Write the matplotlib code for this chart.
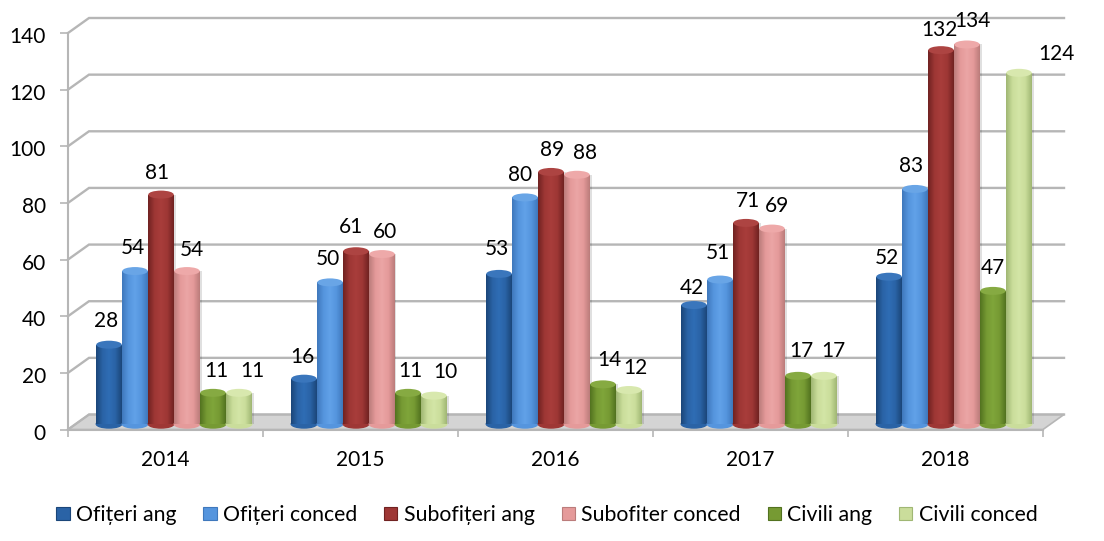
import numpy as np
import matplotlib
matplotlib.use('Agg')
import matplotlib.pyplot as plt
from matplotlib.colors import LinearSegmentedColormap
from matplotlib.patches import Ellipse, Patch, Polygon
from matplotlib.transforms import ScaledTranslation

plt.rcParams['font.family'] = ['Lato', 'DejaVu Sans']

years = ['2014', '2015', '2016', '2017', '2018']
ofiteri_ang = [28, 16, 53, 42, 52]
ofiteri_conced = [54, 50, 80, 51, 83]
subofiteri_ang = [81, 61, 89, 71, 132]
subofiter_conced = [54, 60, 88, 69, 134]
civili_ang = [11, 11, 14, 17, 47]
civili_conced = [11, 10, 12, 17, 124]

series = [ofiteri_ang, ofiteri_conced, subofiteri_ang, subofiter_conced, civili_ang, civili_conced]
names = ['Ofițeri ang', 'Ofițeri conced', 'Subofițeri ang', 'Subofiter conced', 'Civili ang', 'Civili conced']

# dark edge, body, highlight, top cap
shades = [('#1B4679', '#2A63A6', '#2F6DB5', '#3A76BC'),
          ('#3F78BC', '#5595DE', '#62A2E8', '#69A5E6'),
          ('#702221', '#9E3735', '#A83D3B', '#AD4442'),
          ('#BB7C7B', '#E59A9A', '#EBA5A5', '#EEA9A9'),
          ('#527220', '#769A33', '#7FA53A', '#86AA42'),
          ('#A0B774', '#CADD9B', '#D3E5A6', '#D8E8AE')]

# label offset from the bar top centre, in px, one row per year
nudge = [[(-3, 24), (-2, 23), (-4, 22), (5, 21), (3, 22), (13, 22)],
         [(-2, 22), (-2, 23), (-5, 24), (3, 22), (2, 22), (11, 24)],
         [(-2, 25), (-5, 22), (1, 22), (8, 22), (6, 24), (6, 22)],
         [(-2, 17), (-2, 27), (2, 22), (5, 23), (3, 25), (9, 25)],
         [(-2, 19), (-4, 23), (-2, 20), (5, 23), (0, 23), (37, 19)]]

W, H = 1104, 541
x0, x1 = 68, 1043
y0, ytop = 429.5, 33
fig = plt.figure(figsize=(W / 100, H / 100), dpi=100)
ax = fig.add_axes([x0 / W, 1 - y0 / H, (x1 - x0) / W, (y0 - ytop) / H])
ax.set_xlim(0, 5)
ax.set_ylim(0, 140)

px_x = 5 / (x1 - x0)
px_y = 140 / (y0 - ytop)
depth_x = 21 * px_x
depth_y = 15 * px_y
grid_c = '#B6B6B6'

# floor and back wall lines
ax.add_patch(Polygon([(0, 0), (depth_x, depth_y), (5 + depth_x, depth_y), (5, 0)],
                     facecolor='#D4D4D4', edgecolor=grid_c, lw=1.2, clip_on=False, zorder=1))
for v in range(0, 160, 20):
    ax.plot([0, depth_x, 5 + depth_x], [v, v + depth_y, v + depth_y], color=grid_c, lw=1.7,
            clip_on=False, zorder=1, solid_joinstyle='miter')

bar_w = 26 * px_x
start = 28 * px_x
base = 5.5 * px_y
cap_h = 8 * px_y
for i, vals in enumerate(series):
    edge, body, high, cap = shades[i]
    cmap = LinearSegmentedColormap.from_list('c%d' % i, [edge, body, high, body, edge])
    xs = np.arange(5) + start + i * bar_w + bar_w / 2
    z = 5 + i
    for g, (x, v) in enumerate(zip(xs, vals)):
        zz = z + g * 10
        # soft shadow on the right side of the bar
        ax.bar(x + 1.5 * px_x, v, bar_w, bottom=base, color='#000000', alpha=0.12, zorder=zz - 0.1)
        ax.add_patch(Ellipse((x, base), bar_w * 0.98, cap_h, color=body, zorder=zz, clip_on=False))
        rect = ax.bar(x, v, bar_w * 0.98, bottom=base, color=body, zorder=zz)[0]
        im = ax.imshow(np.linspace(0, 1, 64)[None, :], cmap=cmap, aspect='auto', zorder=zz + 0.1,
                       extent=(x - bar_w * 0.49, x + bar_w * 0.49, base, base + v))
        im.set_clip_path(rect)
        ax.add_patch(Ellipse((x, base + v), bar_w * 0.98, cap_h, facecolor=cap, edgecolor='none',
                             zorder=zz + 0.2, clip_on=False))
        dx, dy = nudge[g][i]
        ax.annotate(str(v), (x, base + v), xytext=(dx * 0.72, dy * 0.72), textcoords='offset points',
                    ha='center', va='center', fontsize=15, color='black', zorder=100, annotation_clip=False)
ax.set_xlim(0, 5)
ax.set_ylim(0, 140)

for s in ['top', 'right']:
    ax.spines[s].set_visible(False)
for s in ['left', 'bottom']:
    ax.spines[s].set_color(grid_c)
    ax.spines[s].set_linewidth(1.5)
    ax.spines[s].set_zorder(2)
ax.set_yticks(range(0, 160, 20))
ax.set_xticks(range(6))
ax.set_xticklabels([])
ax.set_xticks(np.arange(5) + 0.5, minor=True)
ax.set_xticklabels(years, minor=True, fontsize=15)
ax.tick_params(axis='x', which='minor', length=0, pad=15)
ax.tick_params(axis='x', which='major', length=5, width=1.2, color=grid_c)
ax.tick_params(axis='y', length=6, width=1.2, color=grid_c, labelsize=15, pad=10)
for lab in ax.get_yticklabels():
    lab.set_transform(lab.get_transform() + ScaledTranslation(0, -2 / 100, fig.dpi_scale_trans))

handles = [Patch(facecolor=shades[i][1], edgecolor=shades[i][0], lw=0.8) for i in range(6)]
fig.legend(handles, names, loc='center', bbox_to_anchor=(547 / W, 1 - 515 / H), ncol=6, frameon=False,
           fontsize=15.3, handlelength=0.62, handleheight=0.62, handletextpad=0.3, columnspacing=1.27)

fig.savefig('out.png', dpi=100)
